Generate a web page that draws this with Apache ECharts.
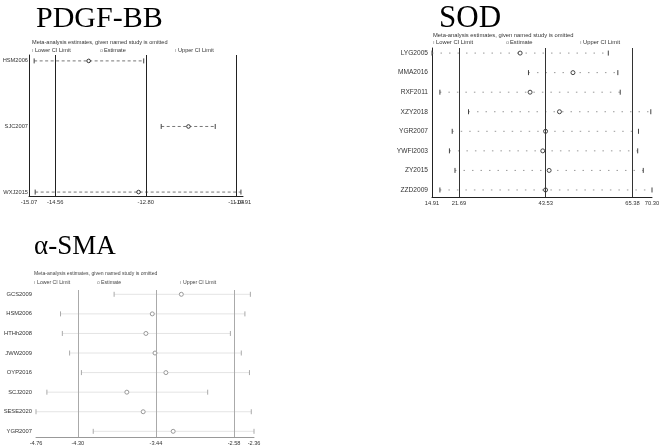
<!DOCTYPE html>
<html>
<head>
<meta charset="utf-8">
<script src="https://cdn.jsdelivr.net/npm/echarts@6/dist/echarts.min.js"></script>
<style>
html, body { margin: 0; padding: 0; background: #fff; }
#chart { width: 661px; height: 447px; }
</style>
</head>
<body>
<div id="chart"></div>
<script>
// PDGF-BB
const pdgfStudies = ['HSM2006', 'SJC2007', 'WXJ2015'];
const pdgfLower = [-14.97, -12.50, -14.95];
const pdgfEst = [-13.91, -11.97, -12.94];
const pdgfUpper = [-12.84, -11.45, -10.95];
const pdgfTicks = [-15.07, -14.56, -12.80, -11.04];
const pdgfMaxTick = [-10.91];
const pdgfRef = [-14.56, -12.80, -11.04];

// SOD
const sodStudies = ['LYG2005', 'MMA2016', 'RXF2011', 'XZY2018', 'YGR2007', 'YWFI2003', 'ZY2015', 'ZZD2009'];
const sodLower = [14.91, 39.2, 16.9, 24.1, 20.0, 19.3, 20.7, 16.9];
const sodEst = [37.1, 50.4, 39.6, 47.0, 43.5, 42.8, 44.4, 43.5];
const sodUpper = [59.3, 61.7, 62.3, 70.0, 66.9, 66.7, 68.1, 70.30];
const sodTicks = [14.91, 21.69, 43.53, 65.38, 70.30];
const sodRef = [21.69, 43.53, 65.38];

// α-SMA
const smaStudies = ['GCS2009', 'HSM2006', 'HTHh2008', 'JWW2009', 'OYP2016', 'SCJ2020', 'SESE2020', 'YGR2007'];
const smaLower = [-3.90, -4.49, -4.47, -4.39, -4.26, -4.64, -4.76, -4.13];
const smaEst = [-3.16, -3.48, -3.55, -3.45, -3.33, -3.76, -3.58, -3.25];
const smaUpper = [-2.40, -2.46, -2.62, -2.50, -2.41, -2.87, -2.39, -2.36];
const smaTicks = [-4.76, -4.30, -3.44, -2.58, -2.36];
const smaRef = [-4.30, -3.44, -2.58];

const sans = '"Liberation Sans", Arial, sans-serif';
const serif = '"Liberation Serif", "Times New Roman", serif';

var myChart = echarts.init(document.getElementById('chart'), null, { renderer: 'canvas' });

// 每一行：下限 | ---- o ---- | 上限
function ciRender(st) {
    return function (params, api) {
        var y = api.value(3);
        var pL = api.coord([api.value(0), y]);
        var pE = api.coord([api.value(1), y]);
        var pU = api.coord([api.value(2), y]);
        return {
            type: 'group',
            children: [
                { type: 'line', shape: { x1: pL[0], y1: pL[1], x2: pU[0], y2: pU[1] },
                  style: { stroke: st.line, lineWidth: 1, lineDash: st.dash } },
                { type: 'line', shape: { x1: pL[0], y1: pL[1] - st.tick, x2: pL[0], y2: pL[1] + st.tick },
                  style: { stroke: st.mark, lineWidth: 1 } },
                { type: 'line', shape: { x1: pU[0], y1: pU[1] - st.tick, x2: pU[0], y2: pU[1] + st.tick },
                  style: { stroke: st.mark, lineWidth: 1 } },
                { type: 'circle', shape: { cx: pE[0], cy: pE[1], r: st.r },
                  style: { fill: '#fff', stroke: st.circle, lineWidth: 1 } }
            ]
        };
    };
}

function rows(studies, lo, est, up) {
    return studies.map(function (s, i) { return [lo[i], est[i], up[i], i]; });
}

function xAxisOf(idx, min, max, ticks, color, size, lineShow) {
    return {
        type: 'value', gridIndex: idx, min: min, max: max, position: 'bottom', offset: 0,
        splitLine: { show: false },
        axisTick: { show: false },
        axisLine: { show: lineShow !== false, onZero: false, lineStyle: { color: color, width: 1 } },
        axisLabel: {
            customValues: ticks, fontSize: size, color: '#333', fontFamily: sans, margin: 3,
            showMinLabel: true, showMaxLabel: true, hideOverlap: false,
            formatter: function (v) { return v.toFixed(2); }
        }
    };
}

function yAxisOf(idx, min, max, studies, lineShow, size, margin) {
    return {
        type: 'value', gridIndex: idx, inverse: true, min: min, max: max,
        splitLine: { show: false },
        axisTick: { show: false },
        axisLine: { show: lineShow, onZero: false, lineStyle: { color: '#222', width: 1 } },
        axisLabel: {
            customValues: studies.map(function (s, i) { return i; }),
            fontSize: size, color: '#333', fontFamily: sans, margin: margin,
            formatter: function (v) { return studies[Math.round(v)]; }
        }
    };
}

function refLines(vals, color) {
    return {
        silent: true, symbol: 'none', animation: false,
        label: { show: false },
        lineStyle: { color: color, type: 'solid', width: 1 },
        data: vals.map(function (v) { return { xAxis: v }; })
    };
}

function txt(x, y, s, font, color, align) {
    return { type: 'text', x: x, y: y, silent: true,
        style: { text: s, font: font, fill: color || '#222', textAlign: align || 'left', textVerticalAlign: 'middle' } };
}

function legendRow(x0, xe, xu, y, size, color) {
    var f = size + 'px ' + sans;
    return [
        txt(x0, y, 'ı', f, '#888'), txt(x0 + 3, y, 'Lower CI Limit', f, color),
        txt(xe, y, 'o', f, '#888'), txt(xe + 4, y, 'Estimate', f, color),
        txt(xu, y, 'ı', f, '#888'), txt(xu + 3, y, 'Upper CI Limit', f, color)
    ];
}

var sub = 'Meta-analysis estimates, given named study is omitted';

var option = {
    animation: false,
    backgroundColor: '#fff',
    grid: [
        { left: 29, width: 214, top: 55, height: 141, outerBoundsMode: 'none', containLabel: false },
        { left: 432, width: 220, top: 48, height: 149, outerBoundsMode: 'none', containLabel: false },
        { left: 36, width: 218, top: 290, height: 147, outerBoundsMode: 'none', containLabel: false }
    ],
    xAxis: [
        xAxisOf(0, -15.07, -10.91, pdgfTicks, '#222', 5.8),
        xAxisOf(1, 14.91, 70.30, sodTicks, '#222', 5.8),
        xAxisOf(2, -4.76, -2.36, smaTicks, '#999', 5.6),
        // 第二条同位置的轴，只为显示与 -11.04 重叠的最大值标签
        xAxisOf(0, -15.07, -10.91, pdgfMaxTick, '#222', 5.8, false)
    ],
    yAxis: [
        yAxisOf(0, -0.09, 2.06, pdgfStudies, true, 5.7, 1),
        yAxisOf(1, -0.26, 7.36, sodStudies, true, 6.6, 4),
        yAxisOf(2, -0.22, 7.29, smaStudies, false, 5.8, 4)
    ],
    series: [
        {
            type: 'custom', xAxisIndex: 0, yAxisIndex: 0,
            renderItem: ciRender({ line: '#777', dash: [3, 2.5], mark: '#444', tick: 2.5, circle: '#333', r: 1.8 }),
            encode: { x: [0, 1, 2], y: 3 },
            data: rows(pdgfStudies, pdgfLower, pdgfEst, pdgfUpper),
            markLine: refLines(pdgfRef, '#222')
        },
        {
            type: 'custom', xAxisIndex: 1, yAxisIndex: 1,
            renderItem: ciRender({ line: '#999', dash: [1.5, 7], mark: '#444', tick: 2.5, circle: '#444', r: 2 }),
            encode: { x: [0, 1, 2], y: 3 },
            data: rows(sodStudies, sodLower, sodEst, sodUpper),
            markLine: refLines(sodRef, '#333')
        },
        {
            type: 'custom', xAxisIndex: 2, yAxisIndex: 2,
            renderItem: ciRender({ line: '#e4e4e4', dash: null, mark: '#aaa', tick: 2.5, circle: '#999', r: 2 }),
            encode: { x: [0, 1, 2], y: 3 },
            data: rows(smaStudies, smaLower, smaEst, smaUpper),
            markLine: refLines(smaRef, '#aaa')
        }
    ],
    graphic: [].concat(
        [
            txt(36, 19.5, 'PDGF-BB', '30px ' + serif, '#000'),
            txt(439, 19, 'SOD', '31px ' + serif, '#000'),
            txt(34, 247, 'α-SMA', '27px ' + serif, '#000'),
            txt(32, 42.7, sub, '5.6px ' + sans, '#333'),
            txt(433, 35, sub, '5.8px ' + sans, '#333'),
            txt(34, 273.5, sub, '5.1px ' + sans, '#444')
        ],
        legendRow(32, 100, 175, 50, 5.6, '#333'),
        legendRow(433, 506, 580, 42, 5.8, '#333'),
        legendRow(34, 97, 180, 282.5, 5.2, '#444')
    )
};

myChart.setOption(option);
window.addEventListener('resize', () => {
    myChart.resize()
})
</script>
</body>
</html>
